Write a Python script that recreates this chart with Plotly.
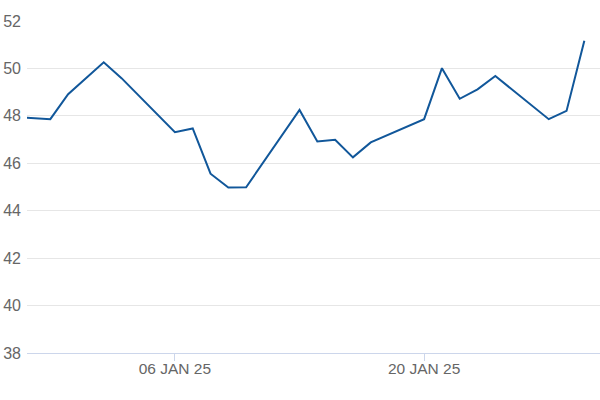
import plotly.graph_objects as go

dates = ["2024-12-27", "2024-12-30", "2024-12-31", "2025-01-02", "2025-01-03",
         "2025-01-06", "2025-01-07", "2025-01-08", "2025-01-09", "2025-01-10",
         "2025-01-13", "2025-01-14", "2025-01-15", "2025-01-16", "2025-01-17",
         "2025-01-20", "2025-01-21", "2025-01-22", "2025-01-23", "2025-01-24",
         "2025-01-27", "2025-01-28", "2025-01-29"]
values = [48.0, 47.86, 48.91, 50.26, 49.59,
          47.31, 47.47, 45.56, 44.98, 44.99,
          48.25, 46.92, 46.99, 46.25, 46.88,
          47.86, 50.01, 48.72, 49.12, 49.68,
          47.86, 48.21, 51.17]

x_tickvals = ["2025-01-06", "2025-01-20"]
x_ticktext = ["06 JAN 25", "20 JAN 25"]
y_tickvals = [38, 40, 42, 44, 46, 48, 50, 52]

fig = go.Figure()
fig.add_trace(go.Scatter(x=dates, y=values, mode="lines",
                         line=dict(color="#11579a", width=2)))

fig.update_layout(
    width=600, height=400,
    margin=dict(l=27, r=0, t=21, b=46.5, autoexpand=False),
    paper_bgcolor="white", plot_bgcolor="white",
    showlegend=False,
    font=dict(family="Liberation Sans, Arial, sans-serif", color="#666666"),
)
fig.update_xaxes(
    type="date",
    range=["2024-12-28 16:34", "2025-01-29 21:07"],
    tickvals=x_tickvals, ticktext=x_ticktext,
    showgrid=False, showline=True, linecolor="#ccd6eb", linewidth=1,
    ticks="outside", ticklen=7, tickcolor="#ccd6eb", tickwidth=1,
    tickfont=dict(size=15.5, color="#666666"),
    ticklabelstandoff=-6,
    zeroline=False, automargin=False,
)
fig.update_yaxes(
    range=[38, 52],
    tickvals=y_tickvals,
    showgrid=True, gridcolor="#e6e6e6", gridwidth=1,
    zeroline=False, showline=False, ticks="",
    tickfont=dict(size=16, color="#666666"),
    ticklabelstandoff=5, automargin=False,
)

fig.write_html("out.html", config={"displayModeBar": False},
               post_script="document.body.style.margin='0';document.body.style.overflow='hidden';")
